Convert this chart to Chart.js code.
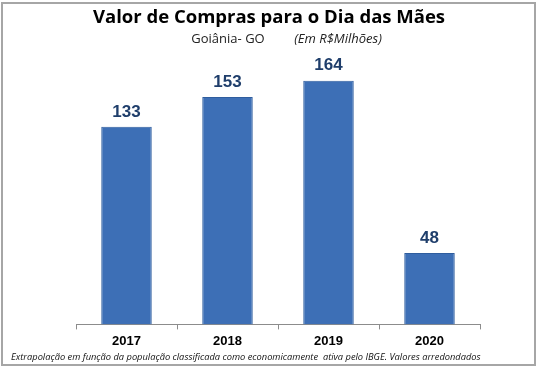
<!DOCTYPE html>
<html>
<head>
<meta charset="utf-8">
<script src="https://cdn.jsdelivr.net/npm/chart.js@4"></script>
<style>
  body { margin: 0; background: #fff; }
  #box { position: absolute; left: 1px; top: 2px; width: 535px; height: 364px; border: 2px solid #a6a6a6; box-sizing: border-box; }
  #wrap { position: absolute; left: 0; top: 0; width: 541px; height: 370px; }
</style>
</head>
<body>
<div id="box"></div>
<div id="wrap"><canvas id="myChart" width="541" height="370"></canvas></div>
<script>
// dados
var anos = ["2017", "2018", "2019", "2020"];
var valores = [133, 153, 164, 48];
var titulo = "Valor de Compras para o Dia das Mães";
var local = "Goiânia- GO";
var unidade = "(Em R$Milhões)";
var nota = "Extrapolação em função da população classificada como economicamente  ativa pelo IBGE. Valores arredondados";

// gradiente das barras (mais claro nas bordas)
function corBarra(ctx) {
  var bar = ctx.element;
  if (!bar || bar.width == null) return "#3d6fb6";
  var g = ctx.chart.ctx.createLinearGradient(bar.x - bar.width / 2, 0, bar.x + bar.width / 2, 0);
  g.addColorStop(0, "#5a8ed4");
  g.addColorStop(0.12, "#3f73bd");
  g.addColorStop(0.88, "#3f73bd");
  g.addColorStop(1, "#5a8ed4");
  return g;
}

// textos e rotulos
var textos = {
  id: "textos",
  afterDatasetsDraw: function (chart) {
    var c = chart.ctx;
    c.save();
    c.textAlign = "center";
    c.textBaseline = "middle";
    c.fillStyle = "#000";
    c.font = "bold 18.5px 'Open Sans', 'DejaVu Sans', sans-serif";
    c.fillText(titulo, 269, 18);
    c.font = "13px 'Open Sans', sans-serif";
    c.fillStyle = "#222";
    c.fillText(local, 228, 39);
    c.font = "italic 13px 'Open Sans', sans-serif";
    c.fillText(unidade, 338, 39);
    c.font = "italic 9.3px 'Open Sans', sans-serif";
    c.fillStyle = "#111";
    c.textAlign = "left";
    c.fillText(nota, 11, 357);

    // valores acima das barras
    c.textAlign = "center";
    c.font = "bold 17px 'Liberation Sans', Arial, sans-serif";
    c.fillStyle = "#1f3e6b";
    var meta = chart.getDatasetMeta(0);
    meta.data.forEach(function (bar, i) {
      c.fillText(valores[i], bar.x, bar.y - 15);
    });
    c.restore();
  }
};

var totalChart = new Chart("myChart", {
  type: "bar",
  data: {
    labels: anos,
    datasets: [{
      data: valores,
      backgroundColor: corBarra,
      borderColor: "#2f5d9e",
      borderWidth: 1,
      categoryPercentage: 1,
      barPercentage: 0.5
    }]
  },
  options: {
    responsive: false,
    animation: false,
    devicePixelRatio: 1,
    layout: { padding: { left: 76, right: 61, top: 57, bottom: 17 } },
    plugins: {
      legend: { display: false },
      tooltip: { enabled: false }
    },
    scales: {
      x: {
        grid: { drawOnChartArea: false, drawTicks: true, tickLength: 5, color: "#8c8c8c", offset: true },
        border: { color: "#8c8c8c", width: 1 },
        ticks: { color: "#000", padding: 4, font: { family: "'Liberation Sans', Arial, sans-serif", size: 13, weight: "bold" } }
      },
      y: {
        display: false,
        min: 0,
        max: 180
      }
    }
  },
  plugins: [textos]
});
</script>
</body>
</html>
